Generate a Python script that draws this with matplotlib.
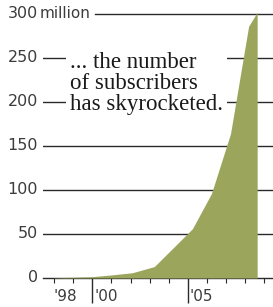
import matplotlib.pyplot as plt

# subscribers, millions
years = [1998, 1999, 2000, 2001, 2002.1, 2003.25, 2005.25, 2006.25, 2007.25, 2008.2, 2008.65]
subs = [0.3, 0.8, 1.5, 3.5, 6, 13, 56, 96, 164, 286, 302]

y_ticks = [0, 50, 100, 150, 200, 250, 300]
x_labels = {1998: "'98", 2000: "'00", 2005: "'05"}
major_years = [2000, 2005]
minor_years = [1998, 1999, 2001, 2002, 2003, 2004, 2006, 2007, 2008, 2009]

note = "... the number\nof subscribers\nhas skyrocketed."

W, H = 273, 307
PX = 0.72  # points per pixel at dpi 100
ink = '#2a2a2a'
label_col = '#3c3c3c'
green = '#9ba65c'

fig = plt.figure(figsize=(W / 100, H / 100), dpi=100)
ax = fig.add_axes([43 / W, (H - 278) / H, (W - 43) / W, (278 - 8) / H])
ax.set_xlim(1998 - (54.3 - 43) / 19.05, 1998 + (273 - 54.3) / 19.05)
ax.set_ylim(0, 270 / 0.88)

for s in ['left', 'right', 'top']:
    ax.spines[s].set_visible(False)
ax.spines['bottom'].set_color(ink)
ax.spines['bottom'].set_linewidth(1.0)

# grid lines
for v in y_ticks[1:-1]:
    ax.axhline(v, color=ink, lw=1.0, zorder=1)
ax.axhline(300, xmin=(95 - 43) / (W - 43), color=ink, lw=1.0, zorder=1)

ax.fill_between(years, subs, 0, color=green, lw=0, zorder=3)

ax.set_yticks([])
ax.set_xticks(major_years)
ax.set_xticks(minor_years, minor=True)
ax.set_xticklabels([])
ax.tick_params(axis='x', which='major', length=25 * PX, width=1.0, color=ink, direction='out')
ax.tick_params(axis='x', which='minor', length=5 * PX, width=0.8, color=ink, direction='out')

for v in y_ticks:
    ax.annotate(str(v), xy=(0, v), xycoords=('axes fraction', 'data'),
                xytext=(-5 * PX, 0), textcoords='offset points',
                ha='right', va='center', fontsize=11.5, color=label_col,
                family='DejaVu Sans')
ax.annotate('million', xy=(0, 300), xycoords=('axes fraction', 'data'),
            xytext=(-3 * PX, 0), textcoords='offset points',
            ha='left', va='center', fontsize=11, color=label_col,
            family='DejaVu Sans')

for yr, lab in x_labels.items():
    dx = -1 if yr == 1998 else 2
    ax.annotate(lab, xy=(yr, 0), xycoords=('data', 'axes fraction'),
                xytext=(dx * PX, -11 * PX), textcoords='offset points',
                ha='left', va='top', fontsize=11, color=label_col,
                family='DejaVu Sans')

fig.text(70 / W, 1 - 52 / H, note, ha='left', va='top', fontsize=16.5,
         family='Liberation Serif', color='#1a1a1a', linespacing=1.0,
         zorder=2, bbox=dict(facecolor='white', edgecolor='none', pad=3))

fig.savefig('out.png', dpi=100)
